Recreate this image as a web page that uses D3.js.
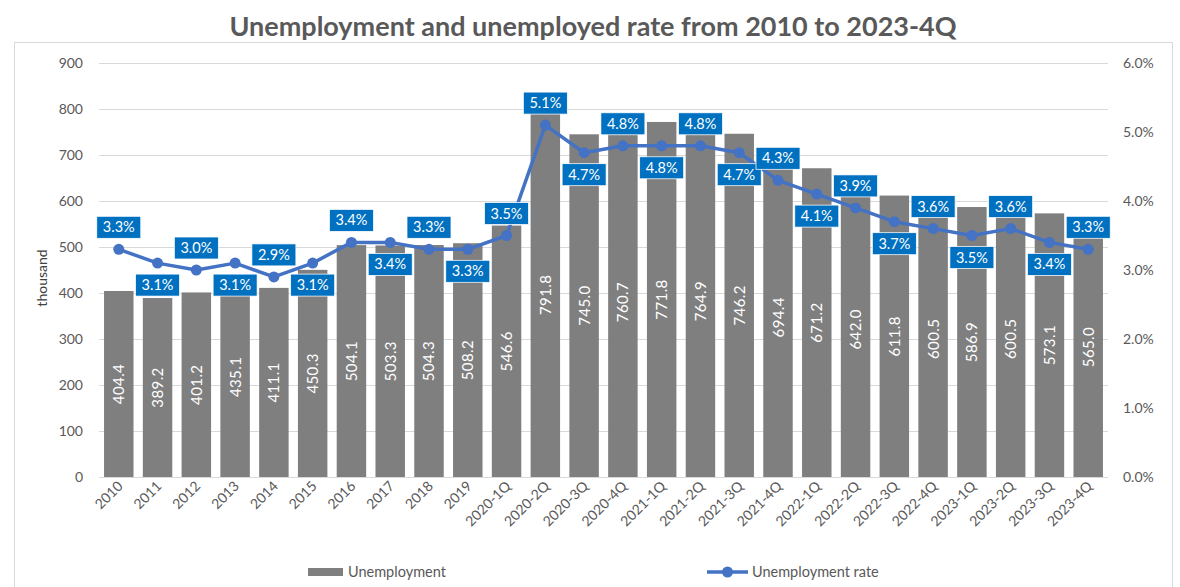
<!DOCTYPE html>
<html>
<head>
<meta charset="utf-8">
<script src="https://cdn.jsdelivr.net/npm/d3@7"></script>
<style>
  html, body { margin: 0; padding: 0; background: #fff; }
  svg { display: block; font-family: Lato, "Open Sans", sans-serif; }
</style>
</head>
<body>
<svg id="chart" width="1180" height="587"></svg>
<script>
// Periods on the x axis
const categories = ["2010","2011","2012","2013","2014","2015","2016","2017","2018","2019",
  "2020-1Q","2020-2Q","2020-3Q","2020-4Q","2021-1Q","2021-2Q","2021-3Q","2021-4Q",
  "2022-1Q","2022-2Q","2022-3Q","2022-4Q","2023-1Q","2023-2Q","2023-3Q","2023-4Q"];

// Unemployed persons, thousand
const unemployment = [404.4, 389.2, 401.2, 435.1, 411.1, 450.3, 504.1, 503.3, 504.3, 508.2,
  546.6, 791.8, 745.0, 760.7, 771.8, 764.9, 746.2, 694.4, 671.2, 642.0, 611.8, 600.5,
  586.9, 600.5, 573.1, 565.0];

// Unemployment rate, percent
const rate = [3.3, 3.1, 3.0, 3.1, 2.9, 3.1, 3.4, 3.4, 3.3, 3.3, 3.5, 5.1, 4.7, 4.8, 4.8,
  4.8, 4.7, 4.3, 4.1, 3.9, 3.7, 3.6, 3.5, 3.6, 3.4, 3.3];

// Where each rate label sits relative to its point
const ratePlacement = ["above","below","above","below","above","below","above","below","above","below",
  "above","above","below","above","below","above","below","above","below","above","below","above",
  "below","above","below","above"];

const leftTicks = [0, 100, 200, 300, 400, 500, 600, 700, 800, 900];
const rightTicks = [0, 1, 2, 3, 4, 5, 6];

const svg = d3.select("#chart");
const plot = { left: 99, right: 1108, top: 63, bottom: 477 };
const textGray = "#595959";

// Chart frame
svg.append("rect")
  .attr("x", 14.5).attr("y", 42.5)
  .attr("width", 1158).attr("height", 560)
  .attr("fill", "none").attr("stroke", "#d9d9d9").attr("stroke-width", 1);

// Title
svg.append("text")
  .attr("x", 593).attr("y", 36)
  .attr("text-anchor", "middle")
  .attr("font-size", 27).attr("font-weight", "bold")
  .attr("fill", textGray)
  .text("Unemployment and unemployed rate from 2010 to 2023-4Q");

const x = d3.scaleBand()
  .domain(categories)
  .range([plot.left, plot.right])
  .paddingInner(0.24)
  .paddingOuter(0.13);

const y = d3.scaleLinear().domain([0, 900]).range([plot.bottom, plot.top]);
const y2 = d3.scaleLinear().domain([0, 6]).range([plot.bottom, plot.top]);

// Gridlines
svg.append("g")
  .selectAll("line")
  .data(leftTicks)
  .join("line")
  .attr("x1", plot.left).attr("x2", plot.right)
  .attr("y1", d => Math.round(y(d)) + 0.5).attr("y2", d => Math.round(y(d)) + 0.5)
  .attr("stroke", "#d9d9d9").attr("stroke-width", 1);

// Left axis
const leftAxis = svg.append("g")
  .attr("transform", `translate(${plot.left},0)`)
  .call(d3.axisLeft(y).tickValues(leftTicks).tickSize(0).tickPadding(16).tickFormat(d3.format("d")));
leftAxis.select(".domain").remove();
leftAxis.selectAll("text").attr("font-size", 14).attr("fill", textGray).attr("font-family", "Lato, sans-serif");

// Right axis
const rightAxis = svg.append("g")
  .attr("transform", `translate(${plot.right},0)`)
  .call(d3.axisRight(y2).tickValues(rightTicks).tickSize(0).tickPadding(15).tickFormat(d => d3.format(".1f")(d) + "%"));
rightAxis.select(".domain").remove();
rightAxis.selectAll("text").attr("font-size", 14).attr("fill", textGray).attr("font-family", "Lato, sans-serif");

// Left axis title
svg.append("text")
  .attr("transform", `translate(47,${(plot.top + plot.bottom) / 2 + 8}) rotate(-90)`)
  .attr("text-anchor", "middle")
  .attr("font-size", 14).attr("fill", "#404040")
  .text("thousand");

// Bars
svg.append("g")
  .selectAll("rect")
  .data(unemployment)
  .join("rect")
  .attr("x", (d, i) => x(categories[i]))
  .attr("width", x.bandwidth())
  .attr("y", d => y(d))
  .attr("height", d => y(0) - y(d))
  .attr("fill", "#7f7f7f");

// Bar value labels, centred inside each bar
svg.append("g")
  .selectAll("text")
  .data(unemployment)
  .join("text")
  .attr("transform", (d, i) => {
    const cx = x(categories[i]) + x.bandwidth() / 2;
    const cy = (y(d) + y(0)) / 2;
    return `translate(${cx + 5.5},${cy}) rotate(-90)`;
  })
  .attr("text-anchor", "middle")
  .attr("font-size", 15).attr("letter-spacing", 0.4).attr("fill", "#ffffff")
  .text(d => d3.format(".1f")(d));

// X axis baseline
svg.append("line")
  .attr("x1", plot.left).attr("x2", plot.right)
  .attr("y1", plot.bottom + 0.5).attr("y2", plot.bottom + 0.5)
  .attr("stroke", "#d9d9d9");

// X labels, rotated
const xAxis = svg.append("g")
  .attr("transform", `translate(0,${plot.bottom})`)
  .call(d3.axisBottom(x).tickSize(0).tickPadding(0));
xAxis.select(".domain").remove();
xAxis.selectAll("text")
  .attr("font-size", 14).attr("fill", textGray).attr("font-family", "Lato, sans-serif")
  .attr("text-anchor", "end")
  .attr("dy", null).attr("y", 0)
  .attr("transform", "translate(5,10) rotate(-45)");

// Rate line
const cx = (i) => x(categories[i]) + x.bandwidth() / 2;
const line = d3.line().x((d, i) => cx(i)).y(d => y2(d));
svg.append("path")
  .datum(rate)
  .attr("d", line)
  .attr("fill", "none")
  .attr("stroke", "#4472c4").attr("stroke-width", 3.5)
  .attr("stroke-linejoin", "round");

svg.append("g")
  .selectAll("circle")
  .data(rate)
  .join("circle")
  .attr("cx", (d, i) => cx(i)).attr("cy", d => y2(d))
  .attr("r", 5.5)
  .attr("fill", "#4472c4");

// Rate labels in blue boxes
const labelG = svg.append("g");
rate.forEach((d, i) => {
  const px = cx(i), py = y2(d);
  const boxW = 44, boxH = 22;
  const top = ratePlacement[i] === "above" ? py - 11 - boxH : py + 11;
  const g = labelG.append("g");
  g.append("rect")
    .attr("x", px - boxW / 2).attr("y", top)
    .attr("width", boxW).attr("height", boxH)
    .attr("fill", "#0070c0")
    .attr("stroke", "#ffffff").attr("stroke-width", 0.75);
  g.append("text")
    .attr("x", px).attr("y", top + boxH / 2 + 5)
    .attr("text-anchor", "middle")
    .attr("font-size", 14.5).attr("fill", "#ffffff")
    .text(d3.format(".1f")(d) + "%");
});

// Legend
const legY = 572;
svg.append("rect")
  .attr("x", 308).attr("y", legY - 4)
  .attr("width", 35).attr("height", 8)
  .attr("fill", "#7f7f7f");
svg.append("text")
  .attr("x", 348).attr("y", legY + 5)
  .attr("font-size", 14.5).attr("fill", textGray)
  .text("Unemployment");

svg.append("line")
  .attr("x1", 707).attr("x2", 748)
  .attr("y1", legY).attr("y2", legY)
  .attr("stroke", "#4472c4").attr("stroke-width", 3.5);
svg.append("circle")
  .attr("cx", 727.5).attr("cy", legY).attr("r", 5.5).attr("fill", "#4472c4");
svg.append("text")
  .attr("x", 752).attr("y", legY + 5)
  .attr("font-size", 14.5).attr("fill", textGray)
  .text("Unemployment rate");
</script>
</body>
</html>
